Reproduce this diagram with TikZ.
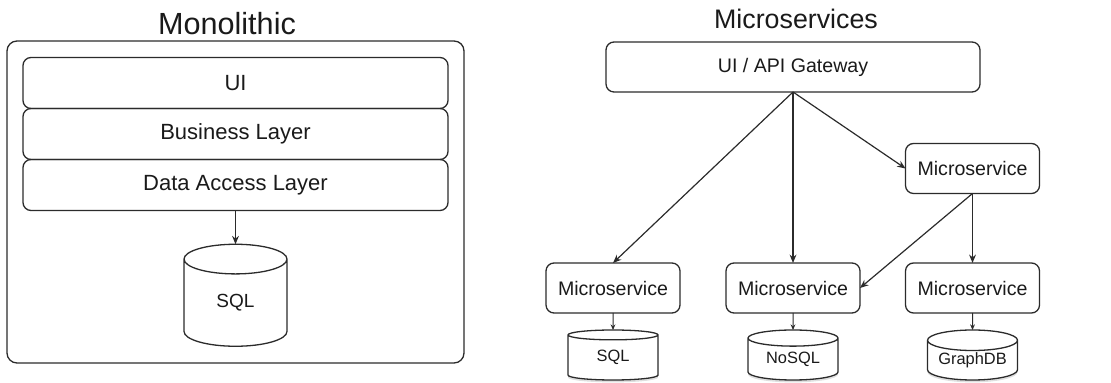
\documentclass[tikz,border=0pt]{standalone}
\usepackage{fontspec}
\setmainfont{Liberation Sans}
\usetikzlibrary{positioning,arrows.meta,shapes.geometric,shadows}
\definecolor{arqborda}{HTML}{2B2B2B}
\definecolor{arqtexto}{HTML}{1A1A1A}
\tikzset{
  arqcaixa/.style={draw=arqborda, line width=0.65pt, rounded corners=4pt, align=center,
                  text=arqtexto, inner sep=0pt, outer sep=0pt},
  arqcamada/.style={arqcaixa, minimum width=212.5pt, minimum height=25.5pt,
                  font=\fontsize{11}{13}\selectfont},
  arqservico/.style={arqcaixa, minimum width=67pt, minimum height=25pt,
                  font=\fontsize{9.8}{12}\selectfont},
  arqbanco/.style={cylinder, shape border rotate=90, draw=arqborda, line width=0.65pt,
                  fill=white, text=arqtexto, inner sep=0pt, outer sep=0pt},
  arqbancopeq/.style={arqbanco, aspect=0.3, minimum width=45pt, minimum height=25pt,
                  font=\fontsize{8.2}{10}\selectfont,
                  drop shadow={opacity=0.25, shadow xshift=0pt, shadow yshift=-1.2pt}},
  arqseta/.style={-{Stealth[length=4.2pt,width=3.4pt]}, draw=arqborda, line width=0.6pt},
  arqsetacurta/.style={-{Stealth[length=2.8pt,width=2.4pt]}, draw=arqborda, line width=0.5pt},
  arqtitulo/.style={text=arqtexto, inner sep=0pt},
}
\begin{document}
\begin{tikzpicture}[x=0.5pt, y=-0.5pt]
    \useasboundingbox (0,0) rectangle (1111,383);
    % monolitico
    \node[arqtitulo, font=\fontsize{15.3}{18}\selectfont] (titmono) at (227,24) {Monolithic};
    \node[arqcaixa, rounded corners=5pt, minimum width=228.5pt, minimum height=161pt] (mono) at (235.5,202) {};
    \node[arqcamada] (ui) at (235.5,83) {UI};
    \node[arqcamada, below=0pt of ui] (negocio) {Business Layer};
    \node[arqcamada, below=0pt of negocio] (dados) {Data Access Layer};
    \node[arqbanco, aspect=0.78, minimum width=51.5pt, minimum height=51pt,
          font=\fontsize{9.5}{11}\selectfont] (sqlmono) at (235.5,303) {SQL};
    \draw[arqseta] (dados.south) -- (sqlmono.top);
    % microsservicos
    \node[arqtitulo, font=\fontsize{13.4}{16}\selectfont] (titmicro) at (796,19) {Microservices};
    \node[arqservico, minimum width=187pt] (gateway) at (793,67) {UI / API Gateway};
    \node[arqservico] (msalto) at (972.5,168.5) {Microservice};
    \node[arqservico] (msesq) at (613,288) {Microservice};
    \node[arqservico] (msmeio) at (793,288) {Microservice};
    \node[arqservico] (msdir) at (972.5,288) {Microservice};
    \node[arqbancopeq, below=8.5pt of msesq] (sqlmicro) {SQL};
    \node[arqbancopeq, below=8.5pt of msmeio] (nosql) {NoSQL};
    \node[arqbancopeq, below=8.5pt of msdir] (graphdb) {GraphDB};
    \draw[arqseta] (gateway.south) -- (msesq.north);
    \draw[arqseta] (gateway.south) -- (msmeio.north);
    \draw[arqseta] (gateway.south) -- (msalto.west);
    \draw[arqseta] (msalto.south) -- (msdir.north);
    \draw[arqseta] (msalto.south) -- (msmeio.east);
    \draw[arqsetacurta] (msesq.south) -- (sqlmicro.top);
    \draw[arqsetacurta] (msmeio.south) -- (nosql.top);
    \draw[arqsetacurta] (msdir.south) -- (graphdb.top);
\end{tikzpicture}
\end{document}
